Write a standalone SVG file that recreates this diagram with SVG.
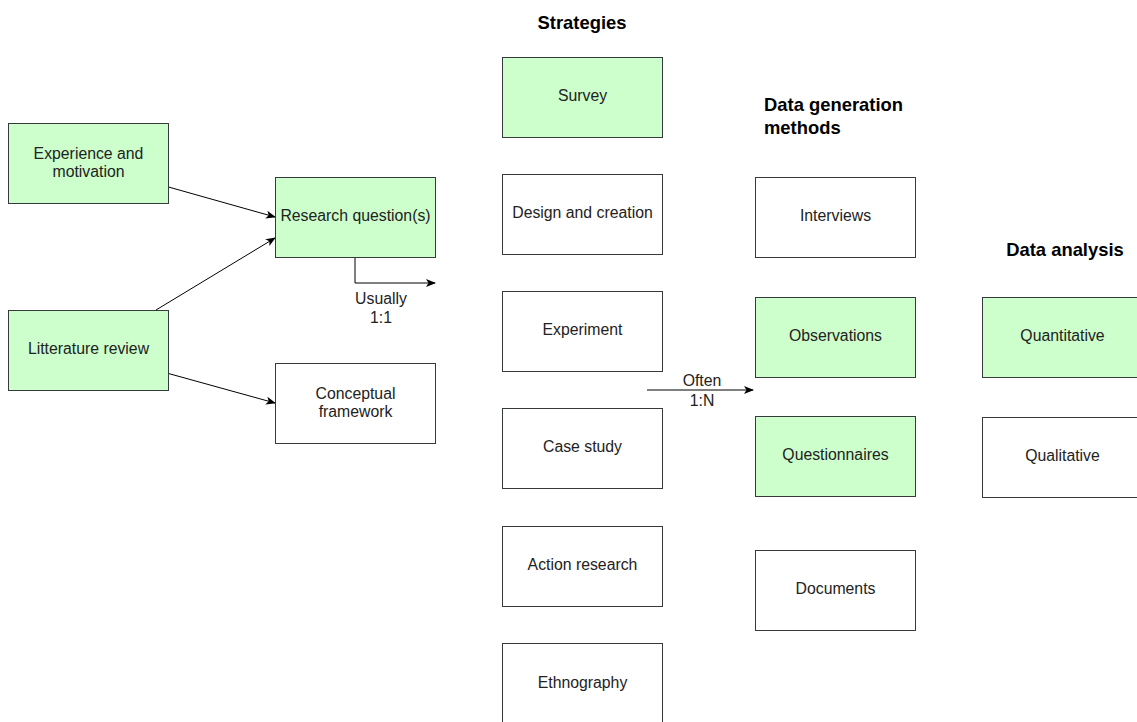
<svg xmlns="http://www.w3.org/2000/svg" width="1137" height="722" viewBox="0 0 1137 722">
<defs>
<style>
.box{stroke:#36393d;stroke-width:1;}
.g{fill:#ccffcc;}
.w{fill:#ffffff;}
.t{font-family:"Liberation Sans",Arial,sans-serif;font-size:15.8px;fill:#222;text-anchor:middle;dominant-baseline:central;}
.h{font-family:"Liberation Sans",Arial,sans-serif;font-size:18.4px;font-weight:bold;fill:#000;}
.c{fill:none;stroke:#000;stroke-width:1;marker-end:url(#arr);}
</style>
<marker id="arr" viewBox="0 0 10 10" refX="9" refY="5" markerWidth="10" markerHeight="10" markerUnits="userSpaceOnUse" orient="auto">
<path d="M0,1 L10,5 L0,9 L2.5,5 Z" fill="#000"/>
</marker>
</defs>
<rect width="1137" height="722" fill="#fff"/>
<g id="titles">
<text class="h" x="582" y="28.5" text-anchor="middle">Strategies</text>
<text class="h" x="764" y="110.5">Data generation</text>
<text class="h" x="764" y="133.5">methods</text>
<text class="h" x="1065" y="255.5" text-anchor="middle">Data analysis</text>
</g>
<g id="connectors">
<path class="c" d="M168.5,187 L275,217"/>
<path class="c" d="M156,310 L275,238"/>
<path class="c" d="M168.5,373.5 L275,403"/>
<path class="c" d="M355,257 L355,283 L435,283"/>
<path class="c" d="M647,390 L753,390"/>
<text class="t" x="381" y="298">Usually</text>
<text class="t" x="381" y="317">1:1</text>
<text class="t" x="702" y="380">Often</text>
<text class="t" x="702" y="400">1:N</text>
</g>
<g id="experience"><rect class="box g" x="8.5" y="123.5" width="160" height="80"/><text class="t" x="88.5" y="153">Experience and</text><text class="t" x="88.5" y="171">motivation</text></g>
<g id="litterature"><rect class="box g" x="8.5" y="310.5" width="160" height="80"/><text class="t" x="88.5" y="348">Litterature review</text></g>
<g id="research"><rect class="box g" x="275.5" y="177.5" width="160" height="80"/><text class="t" x="355.5" y="215">Research question(s)</text></g>
<g id="conceptual"><rect class="box w" x="275.5" y="363.5" width="160" height="80"/><text class="t" x="355.5" y="393">Conceptual</text><text class="t" x="355.5" y="411">framework</text></g>
<g id="survey"><rect class="box g" x="502.5" y="57.5" width="160" height="80"/><text class="t" x="582.5" y="95">Survey</text></g>
<g id="design"><rect class="box w" x="502.5" y="174.5" width="160" height="80"/><text class="t" x="582.5" y="212">Design and creation</text></g>
<g id="experiment"><rect class="box w" x="502.5" y="291.5" width="160" height="80"/><text class="t" x="582.5" y="329">Experiment</text></g>
<g id="casestudy"><rect class="box w" x="502.5" y="408.5" width="160" height="80"/><text class="t" x="582.5" y="446">Case study</text></g>
<g id="action"><rect class="box w" x="502.5" y="526.5" width="160" height="80"/><text class="t" x="582.5" y="564">Action research</text></g>
<g id="ethnography"><rect class="box w" x="502.5" y="643.5" width="160" height="80"/><text class="t" x="582.5" y="682">Ethnography</text></g>
<g id="interviews"><rect class="box w" x="755.5" y="177.5" width="160" height="80"/><text class="t" x="835.5" y="215">Interviews</text></g>
<g id="observations"><rect class="box g" x="755.5" y="297.5" width="160" height="80"/><text class="t" x="835.5" y="335">Observations</text></g>
<g id="questionnaires"><rect class="box g" x="755.5" y="416.5" width="160" height="80"/><text class="t" x="835.5" y="454">Questionnaires</text></g>
<g id="documents"><rect class="box w" x="755.5" y="550.5" width="160" height="80"/><text class="t" x="835.5" y="588">Documents</text></g>
<g id="quantitative"><rect class="box g" x="982.5" y="297.5" width="160" height="80"/><text class="t" x="1062.5" y="335">Quantitative</text></g>
<g id="qualitative"><rect class="box w" x="982.5" y="417.5" width="160" height="80"/><text class="t" x="1062.5" y="455">Qualitative</text></g>
</svg>
